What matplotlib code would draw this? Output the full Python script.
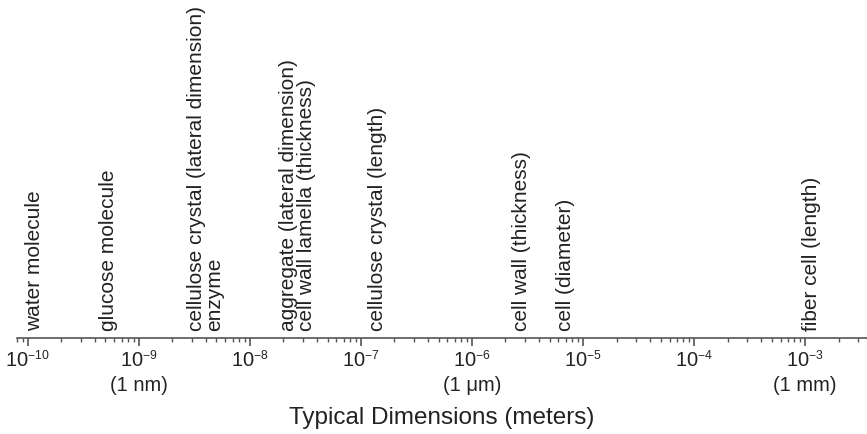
import matplotlib
matplotlib.use("Agg")
import matplotlib.pyplot as plt
from matplotlib.ticker import LogLocator, FixedLocator, NullFormatter
from matplotlib.transforms import offset_copy
import matplotlib._mathtext as _mt

_mt.SHRINK_FACTOR = 0.6

plt.rcParams['font.family'] = ['Liberation Sans', 'DejaVu Sans']
plt.rcParams['mathtext.fontset'] = 'custom'
plt.rcParams['mathtext.rm'] = 'Liberation Sans'
plt.rcParams['mathtext.it'] = 'Liberation Sans:italic'
plt.rcParams['mathtext.bf'] = 'Liberation Sans:bold'

# Data
labels = [
    "water molecule",
    "glucose molecule",
    "cellulose crystal (lateral dimension)\nenzyme",
    "aggregate (lateral dimension)\ncell wall lamella (thickness)",
    "cellulose crystal (length)",
    "cell wall (thickness)",
    "cell (diameter)",
    "fiber cell (length)",
]
sizes_m = [1.15e-10, 5.3e-10, 4.0e-9, 2.7e-8, 1.4e-7, 2.8e-6, 7.0e-6, 1.15e-3]

tick_values = [1e-10, 1e-9, 1e-8, 1e-7, 1e-6, 1e-5, 1e-4, 1e-3]
tick_labels = [
    r"$\mathregular{10^{-10}}$",
    "$\\mathregular{10^{-9}}$\n(1 nm)",
    r"$\mathregular{10^{-8}}$",
    r"$\mathregular{10^{-7}}$",
    "$\\mathregular{10^{-6}}$\n(1 \u03bcm)",
    r"$\mathregular{10^{-5}}$",
    r"$\mathregular{10^{-4}}$",
    "$\\mathregular{10^{-3}}$\n(1 mm)",
]
x_limits = (8.0e-11, 3.6e-3)

fig = plt.figure(figsize=(8.67, 4.34), dpi=100)
ax = fig.add_axes([17/867, (434-338)/434, 1 - 17/867, 338/434])
ax.set_xscale('log')
ax.set_xlim(*x_limits)
ax.set_ylim(0, 1)

for s in ['top', 'right', 'left']:
    ax.spines[s].set_visible(False)
ax.spines['bottom'].set_color('#555555')
ax.spines['bottom'].set_linewidth(1.2)
ax.set_yticks([])

ax.xaxis.set_major_locator(FixedLocator(tick_values))
ax.set_xticklabels(tick_labels, fontsize=14.5, color='#222222', linespacing=1.3)
ax.xaxis.set_minor_locator(LogLocator(base=10, subs=range(2, 10), numticks=30))
ax.xaxis.set_minor_formatter(NullFormatter())
ax.tick_params(axis='x', which='major', direction='out', length=5.5, width=1.2, color='#555555', pad=3)
ax.tick_params(axis='x', which='minor', direction='out', length=3, width=1.0, color='#555555')

ax.set_xlabel("Typical Dimensions (meters)", fontsize=17.5, color='#222222', labelpad=9)

trans = offset_copy(ax.get_xaxis_transform(), fig=fig, x=0, y=7, units='dots')
for lab, v in zip(labels, sizes_m):
    ax.text(v, 0, lab, rotation=90, ha='center', va='bottom', fontsize=15,
            color='#222222', transform=trans, multialignment='left',
            linespacing=0.92)

fig.savefig("out.png", dpi=100)
